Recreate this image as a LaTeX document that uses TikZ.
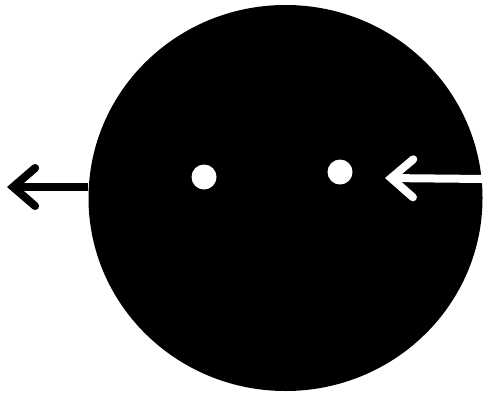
\documentclass[tikz,border=0pt]{standalone}
\usetikzlibrary{positioning, arrows.meta, shapes.geometric}

\begin{document}
\begin{tikzpicture}[
    x=0.5pt, y=-0.5pt,
    disc/.style={
        ellipse,
        fill=black,
        inner sep=0pt,
        minimum width=197pt,
        minimum height=193pt
    },
    hole/.style={
        circle,
        fill=white,
        inner sep=0pt,
        minimum size=12.5pt
    },
    arr/.style={
        -{Straight Barb[length=11pt, width=19pt, line cap=round]},
        line width=4pt
    }
]
\useasboundingbox (0,0) rectangle (485,396);

% The black disc and its two holes
\node[disc] (ball) at (285.5,198) {};
\node[hole] (holeL) at (204,177) {};
\node[hole] (holeR) at (340,172) {};

% Free ends of the two arrows
\coordinate (outL) at (7,187);
\coordinate (inR) at (485,179);
\coordinate (tipR) at (385,178);

% Arrows
\draw[arr, black] (outL -| ball.west) -- (outL);
\draw[arr, white] (inR) -- (tipR);

\end{tikzpicture}
\end{document}
